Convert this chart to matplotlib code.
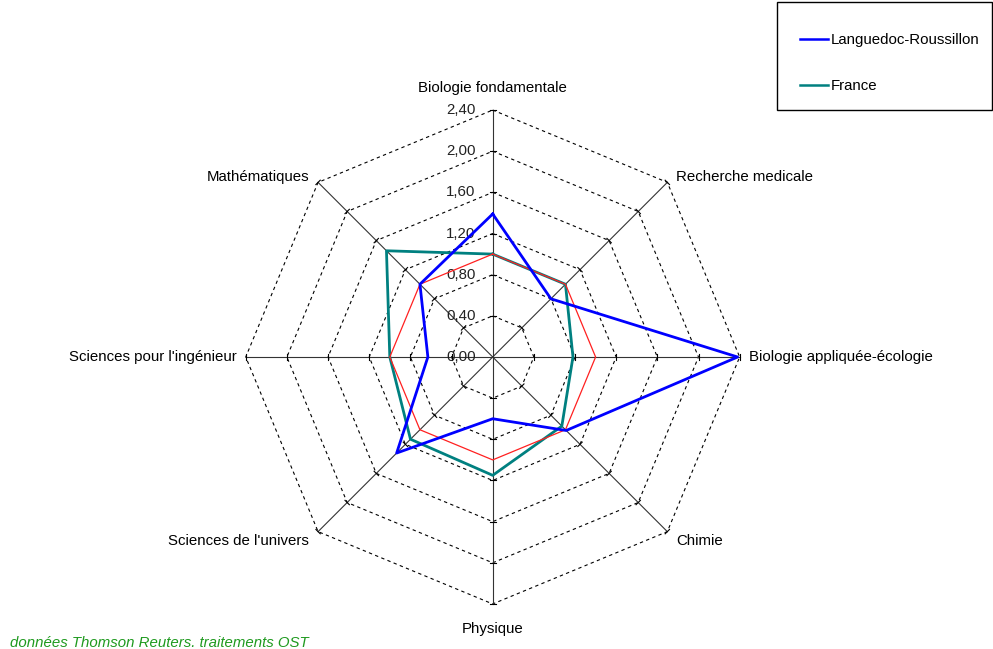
import numpy as np
import matplotlib
matplotlib.use('Agg')
import matplotlib.pyplot as plt
from matplotlib.lines import Line2D
from matplotlib.patches import Rectangle

# axes of the radar, clockwise from the top
categories = ['Biologie fondamentale', 'Recherche medicale', 'Biologie appliquée-écologie',
              'Chimie', 'Physique', "Sciences de l'univers", "Sciences pour l'ingénieur",
              'Mathématiques']
languedoc = [1.39, 0.80, 2.38, 1.01, 0.60, 1.32, 0.63, 1.00]
france = [1.00, 1.00, 0.78, 0.95, 1.15, 1.13, 1.00, 1.46]
reference = [1.00, 1.00, 1.00, 1.00, 1.00, 1.00, 1.00, 1.00]
levels = [0.0, 0.4, 0.8, 1.2, 1.6, 2.0, 2.4]
level_labels = ['0,00', '0,40', '0,80', '1,20', '1,60', '2,00', '2,40']

plt.rcParams['font.family'] = ['Liberation Sans', 'DejaVu Sans']
FS = 10.8

W, H = 993, 649
cx, cy, scale = 492.7, 357.0, 102.9  # centre in pixels, pixels per unit

fig = plt.figure(figsize=(W / 100, H / 100), dpi=100)
ax = fig.add_axes([0, 0, 1, 1])
ax.set_xlim(-cx / scale, (W - cx) / scale)
ax.set_ylim(-(H - cy) / scale, cy / scale)
ax.axis('off')

n = len(categories)
angles = np.pi / 2 - np.arange(n) * 2 * np.pi / n


def to_xy(values):
    v = np.array(list(values) + [values[0]])
    a = np.append(angles, angles[0])
    return v * np.cos(a), v * np.sin(a)


# dashed octagon grid
for lv in levels[1:]:
    gx, gy = to_xy([lv] * n)
    ax.plot(gx, gy, color='black', lw=0.8, ls=(0, (3, 3)), zorder=1)

# spokes with small ticks
rmax = levels[-1]
for a in angles:
    ax.plot([0, rmax * np.cos(a)], [0, rmax * np.sin(a)], color='#333333', lw=0.8, zorder=1)
    px, py = -np.sin(a), np.cos(a)
    for lv in levels[1:]:
        tx, ty = lv * np.cos(a), lv * np.sin(a)
        ax.plot([tx - 0.03 * px, tx + 0.03 * px], [ty - 0.03 * py, ty + 0.03 * py],
                color='black', lw=0.8, zorder=1)

# scale labels on the vertical axis
for lv, lab in zip(levels, level_labels):
    ax.text(-17 / scale, lv, lab, ha='right', va='center', fontsize=FS, color='#222222', zorder=2)

# data series
fx, fy = to_xy(france)
ax.plot(fx, fy, color='#008080', lw=2.0, zorder=3)
rx, ry = to_xy(reference)
ax.plot(rx, ry, color='#ff2020', lw=0.9, zorder=4)
lx, ly = to_xy(languedoc)
ax.plot(lx, ly, color='#0000ff', lw=2.0, zorder=5)

# category labels
off = 9 / scale
for cat, a in zip(categories, angles):
    x, y = rmax * np.cos(a), rmax * np.sin(a)
    c, s = np.cos(a), np.sin(a)
    if abs(c) < 0.01:
        ha = 'center'
    elif c > 0:
        ha = 'left'
    else:
        ha = 'right'
    if abs(s) < 0.01:
        va = 'center'
        x += off * np.sign(c)
    elif abs(c) < 0.01:
        va = 'bottom' if s > 0 else 'top'
        y += (15 if s > 0 else -18) / scale
    else:
        va = 'center'
        x += off * np.sign(c)
        y += (5 if s > 0 else -9) / scale
    ax.text(x, y, cat, ha=ha, va=va, fontsize=FS, color='black')

# legend box
fig.patches.append(Rectangle((777 / W, (H - 110) / H), (W - 778) / W, 108 / H,
                             transform=fig.transFigure, fill=False, edgecolor='black', lw=1.0))
handles = [Line2D([], [], color='#0000ff', lw=1.8), Line2D([], [], color='#008080', lw=1.8)]
fig.legend(handles, ['Languedoc-Roussillon', 'France'], loc='upper left',
           bbox_to_anchor=(800 / W, (H - 33) / H), frameon=False, fontsize=FS,
           handlelength=1.85, handletextpad=0.2, labelspacing=2.15,
           borderpad=0, borderaxespad=0)

fig.text(10 / W, 1 - 643 / H, 'données Thomson Reuters. traitements OST', ha='left', va='center',
         fontsize=FS, style='italic', color='#1f9a1f')

fig.savefig('out.png', dpi=100)
